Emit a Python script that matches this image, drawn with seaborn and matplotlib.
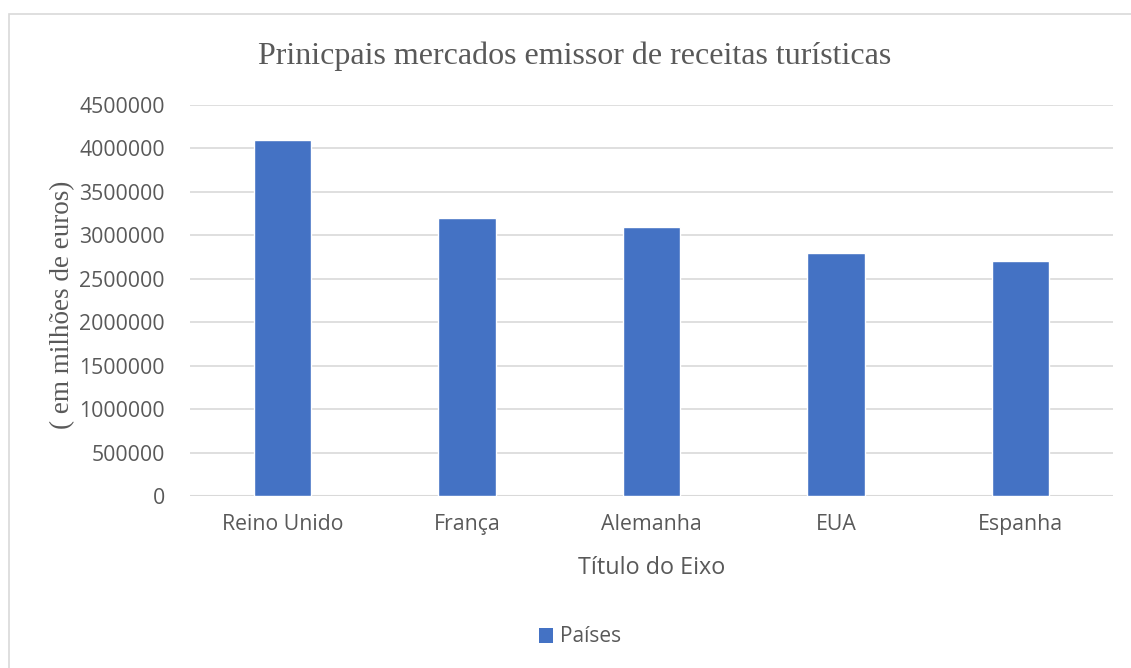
import matplotlib
matplotlib.use("Agg")
import matplotlib.pyplot as plt
import seaborn as sns
import pandas as pd
from matplotlib.patches import Rectangle, Patch

categories = ["Reino Unido", "França", "Alemanha", "EUA", "Espanha"]
values = [4100000, 3200000, 3100000, 2800000, 2700000]
yticks = [0, 500000, 1000000, 1500000, 2000000, 2500000, 3000000, 3500000, 4000000, 4500000]

title = "Prinicpais mercados emissor de receitas turísticas"
xlabel = "Título do Eixo"
ylabel = "( em milhões de euros)"
legend_label = "Países"

sns.set_theme(style="white")
plt.rcParams['font.family'] = ['Open Sans', 'DejaVu Sans']

BAR = "#4472C4"
GRID = "#D9D9D9"
TXT = "#595959"

df = pd.DataFrame({"pais": categories, "valor": values})

fig = plt.figure(figsize=(11.31, 6.68), dpi=100)
ax = fig.add_axes([190/1131, 1-496/668, (1113-190)/1131, (496-105)/668])

sns.barplot(data=df, x="pais", y="valor", color=BAR, width=0.31, ax=ax,
            saturation=1, zorder=3)

ax.set_ylim(0, 4500000)
ax.set_xlim(-0.5, len(categories) - 0.5)
ax.set_yticks(yticks)
ax.set_yticklabels([str(v) for v in yticks])
ax.yaxis.grid(True, color=GRID, linewidth=1.2, zorder=0)
ax.set_axisbelow(True)
for s in ax.spines.values():
    s.set_visible(False)
ax.axhline(0, color=GRID, linewidth=1.5, zorder=1)
ax.tick_params(axis="both", length=0, labelsize=15.3, colors=TXT)
ax.tick_params(axis="y", pad=18)
ax.tick_params(axis="x", pad=13)

ax.set_xlabel(xlabel, fontsize=16.8, color=TXT, labelpad=15)
ax.set_ylabel(ylabel, fontsize=19.5, color=TXT, family=['Liberation Serif'])
ax.yaxis.set_label_coords(-0.124, 0.488)

fig.text(575/1131, 1-56/668, title, ha="center", va="center", fontsize=23,
         color=TXT, family=['Liberation Serif'])

handles = [Patch(facecolor=BAR, edgecolor="none", label=legend_label)]
fig.legend(handles=handles, loc="center", bbox_to_anchor=(580/1131, 1-637/668),
           frameon=False, fontsize=15, labelcolor=TXT, handlelength=0.7,
           handleheight=0.7, handletextpad=0.35)

fig.patches.append(Rectangle((8.5/1131, -0.1), 1.2, 1.1 - 14.5/668,
                             transform=fig.transFigure, fill=False,
                             edgecolor="#D9D9D9", linewidth=1.2))

fig.savefig("out.png", dpi=100, facecolor="white")
